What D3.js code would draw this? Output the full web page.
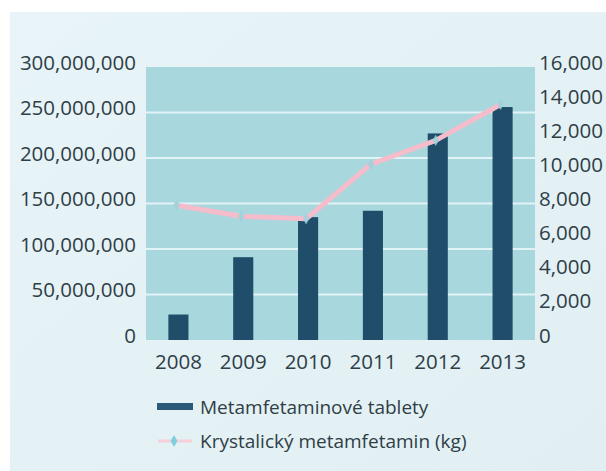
<!DOCTYPE html>
<html>
<head>
<meta charset="utf-8">
<script src="https://cdn.jsdelivr.net/npm/d3@7"></script>
<style>
  html, body { margin: 0; padding: 0; background: #ffffff; }
  svg { display: block; }
  text { font-family: "Open Sans", "Liberation Sans", sans-serif; fill: #2f3e47; }
</style>
</head>
<body>
<svg id="chart" width="606" height="471"></svg>
<script>
// Seizures of methamphetamine by year
const years = ["2008", "2009", "2010", "2011", "2012", "2013"];
const tablets = [28000000, 91000000, 135000000, 142000000, 227000000, 256000000];
const crystalKg = [7900, 7250, 7100, 10300, 11700, 13800];
const leftTicks = [0, 50000000, 100000000, 150000000, 200000000, 250000000, 300000000];
const rightTicks = [0, 2000, 4000, 6000, 8000, 10000, 12000, 14000, 16000];
const seriesNames = ["Metamfetaminové tablety", "Krystalický metamfetamin (kg)"];

const W = 606, H = 471;
const m = { left: 146, right: 71, top: 67, bottom: 131 };
const svg = d3.select("#chart");
const textColor = "#2f3e47";

// page background with soft light-blue panel
const defs = svg.append("defs");
const grad = defs.append("linearGradient").attr("id", "pageGrad")
  .attr("x1", 0).attr("y1", 0).attr("x2", 1).attr("y2", 1);
grad.append("stop").attr("offset", "0%").attr("stop-color", "#e8f4f7");
grad.append("stop").attr("offset", "100%").attr("stop-color", "#e1eff3");
svg.append("rect").attr("x", 0).attr("y", 0).attr("width", W).attr("height", H).attr("fill", "#ffffff");
svg.append("rect").attr("x", 10).attr("y", 12).attr("width", W - 10).attr("height", H - 12)
  .attr("fill", "url(#pageGrad)");

const x = d3.scaleBand().domain(years).range([m.left, W - m.right]).paddingInner(0.69).paddingOuter(0.345);
const yL = d3.scaleLinear().domain([0, 300000000]).range([H - m.bottom, m.top]);
const yR = d3.scaleLinear().domain([0, 16000]).range([H - m.bottom, m.top]);
const fmt = d3.format(",");

// plot area
svg.append("rect")
  .attr("x", m.left).attr("y", m.top)
  .attr("width", W - m.right - m.left).attr("height", H - m.bottom - m.top)
  .attr("fill", "#a8d7de");

// horizontal gridlines from the left axis
svg.append("g").selectAll("line").data(leftTicks.slice(1, -1)).join("line")
  .attr("x1", m.left).attr("x2", W - m.right)
  .attr("y1", d => yL(d)).attr("y2", d => yL(d))
  .attr("stroke", "#e2f3f5").attr("stroke-width", 1.8);

function styleAxisText(sel, size) {
  sel.selectAll("text").attr("font-size", size).attr("fill", textColor)
    .style("font-family", "'Open Sans', sans-serif");
}

// left axis
const axL = svg.append("g").attr("transform", `translate(${m.left},0)`)
  .call(d3.axisLeft(yL).tickValues(leftTicks).tickFormat(fmt).tickSize(0).tickPadding(10));
axL.select(".domain").remove();
styleAxisText(axL, 20.5);
axL.selectAll("text").attr("dy", "0.1em");

// right axis
const axR = svg.append("g").attr("transform", `translate(${W - m.right},0)`)
  .call(d3.axisRight(yR).tickValues(rightTicks).tickFormat(fmt).tickSize(0).tickPadding(4));
axR.select(".domain").remove();
styleAxisText(axR, 20.5);
axR.selectAll("text").attr("dy", "0.1em");

// x axis
const axX = svg.append("g").attr("transform", `translate(0,${H - m.bottom})`)
  .call(d3.axisBottom(x).tickSize(0).tickPadding(14));
axX.select(".domain").remove();
styleAxisText(axX, 20.5);

// bars
svg.append("g").selectAll("rect").data(years).join("rect")
  .attr("x", d => x(d))
  .attr("y", (d, i) => yL(tablets[i]))
  .attr("width", x.bandwidth())
  .attr("height", (d, i) => yL(0) - yL(tablets[i]))
  .attr("fill", "#1f4d6a");

// crystal line
const pts = years.map((d, i) => [x(d) + x.bandwidth() / 2 - 2, yR(crystalKg[i])]);
svg.append("path")
  .attr("d", d3.line()(pts))
  .attr("fill", "none").attr("stroke", "#f5bccb").attr("stroke-width", 5)
  .attr("stroke-linejoin", "round").attr("stroke-linecap", "round");
svg.append("g").selectAll("path").data(pts).join("path")
  .attr("d", d3.symbol(d3.symbolDiamond, 36)())
  .attr("transform", d => `translate(${d[0]},${d[1]})`)
  .attr("fill", "#98d3dd").attr("opacity", 0.85);

// legend
const lg = svg.append("g");
lg.append("rect").attr("x", 157).attr("y", 403).attr("width", 36).attr("height", 7).attr("fill", "#2a5a78");
lg.append("text").attr("x", 200).attr("y", 407).attr("dy", "0.35em")
  .attr("font-size", 19).text(seriesNames[0]);
lg.append("line").attr("x1", 158).attr("x2", 192).attr("y1", 441).attr("y2", 441)
  .attr("stroke", "#f7d0da").attr("stroke-width", 3);
lg.append("path").attr("d", d3.symbol(d3.symbolDiamond, 40)())
  .attr("transform", "translate(174,441)").attr("fill", "#7fcfe0");
lg.append("text").attr("x", 200).attr("y", 441).attr("dy", "0.35em")
  .attr("font-size", 19).text(seriesNames[1]);
</script>
</body>
</html>
